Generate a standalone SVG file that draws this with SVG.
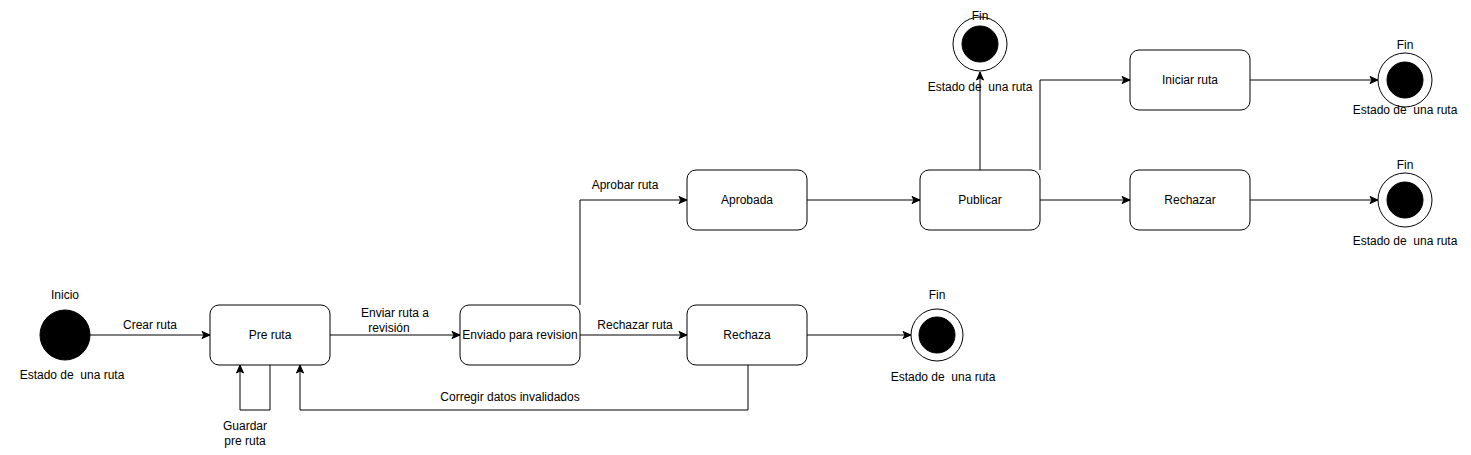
<svg xmlns="http://www.w3.org/2000/svg" width="1471" height="455" viewBox="0 0 1471 455">
<style>
text{font-family:"Liberation Sans",Arial,sans-serif;font-size:12px;fill:#000;text-anchor:middle;dominant-baseline:central;white-space:pre}
.st{fill:#fff;stroke:#000;stroke-width:1}
.e{fill:none;stroke:#000;stroke-width:1}
.blk{fill:#000;stroke:#000}
</style>
<defs>
<marker id="arr" markerUnits="userSpaceOnUse" markerWidth="10" markerHeight="10" viewBox="0 0 10 10" refX="9" refY="5" orient="auto">
<path d="M1,1.5 L9,5 L1,8.5 L3,5 Z" fill="#000" stroke="#000" stroke-width="1"/>
</marker>
</defs>
<g id="edges">
<path class="e" d="M90,335 H210" marker-end="url(#arr)"/>
<text x="150" y="325">Crear ruta</text>
<path class="e" d="M330,335 H460" marker-end="url(#arr)"/>
<text x="395" y="313">Enviar ruta a</text>
<text x="389" y="328">revisión</text>
<path class="e" d="M270,365 V410 H240 V365" marker-end="url(#arr)"/>
<text x="245" y="426">Guardar</text>
<text x="245" y="441">pre ruta</text>
<path class="e" d="M580,335 H687" marker-end="url(#arr)"/>
<text x="635" y="325">Rechazar ruta</text>
<path class="e" d="M580,305 V200 H687" marker-end="url(#arr)"/>
<text x="625" y="185">Aprobar ruta</text>
<path class="e" d="M748,365 V410 H300 V365" marker-end="url(#arr)"/>
<text x="510" y="397">Corregir datos invalidados</text>
<path class="e" d="M807,335 H911" marker-end="url(#arr)"/>
<path class="e" d="M807,200 H920" marker-end="url(#arr)"/>
<path class="e" d="M980,170 V72" marker-end="url(#arr)"/>
<path class="e" d="M1040,170 V80 H1130" marker-end="url(#arr)"/>
<path class="e" d="M1040,200 H1130" marker-end="url(#arr)"/>
<path class="e" d="M1250,80 H1378" marker-end="url(#arr)"/>
<path class="e" d="M1250,200 H1378" marker-end="url(#arr)"/>
</g>
<g id="inicio">
<circle class="blk" cx="65" cy="335" r="25"/>
<text x="65" y="295">Inicio</text>
<text x="72" y="375">Estado de  una ruta</text>
</g>
<g id="pre-ruta">
<rect class="st" x="210" y="305" width="120" height="60" rx="9"/>
<text x="270" y="335">Pre ruta</text>
</g>
<g id="enviado">
<rect class="st" x="460" y="305" width="120" height="60" rx="9"/>
<text x="520" y="335">Enviado para revision</text>
</g>
<g id="rechaza">
<rect class="st" x="687" y="305" width="120" height="60" rx="9"/>
<text x="747" y="335">Rechaza</text>
</g>
<g id="aprobada">
<rect class="st" x="687" y="170" width="120" height="60" rx="9"/>
<text x="747" y="200">Aprobada</text>
</g>
<g id="publicar">
<rect class="st" x="920" y="170" width="120" height="60" rx="9"/>
<text x="980" y="200">Publicar</text>
</g>
<g id="iniciar-ruta">
<rect class="st" x="1130" y="50" width="120" height="60" rx="9"/>
<text x="1190" y="80">Iniciar ruta</text>
</g>
<g id="rechazar">
<rect class="st" x="1130" y="170" width="120" height="60" rx="9"/>
<text x="1190" y="200">Rechazar</text>
</g>
<g id="fin-rechaza">
<circle class="st" cx="937" cy="335" r="26"/>
<circle class="blk" cx="937" cy="335" r="18"/>
<text x="937" y="295">Fin</text>
<text x="943" y="377">Estado de  una ruta</text>
</g>
<g id="fin-publicar">
<circle class="st" cx="980" cy="44" r="27"/>
<circle class="blk" cx="980" cy="44" r="18"/>
<text x="980" y="16">Fin</text>
<text x="980" y="87">Estado de  una ruta</text>
</g>
<g id="fin-iniciar">
<circle class="st" cx="1405" cy="80" r="27"/>
<circle class="blk" cx="1405" cy="80" r="18"/>
<text x="1405" y="45">Fin</text>
<text x="1405" y="110">Estado de  una ruta</text>
</g>
<g id="fin-rechazar">
<circle class="st" cx="1405" cy="200" r="27"/>
<circle class="blk" cx="1405" cy="200" r="18"/>
<text x="1405" y="165">Fin</text>
<text x="1405" y="241">Estado de  una ruta</text>
</g>
</svg>
